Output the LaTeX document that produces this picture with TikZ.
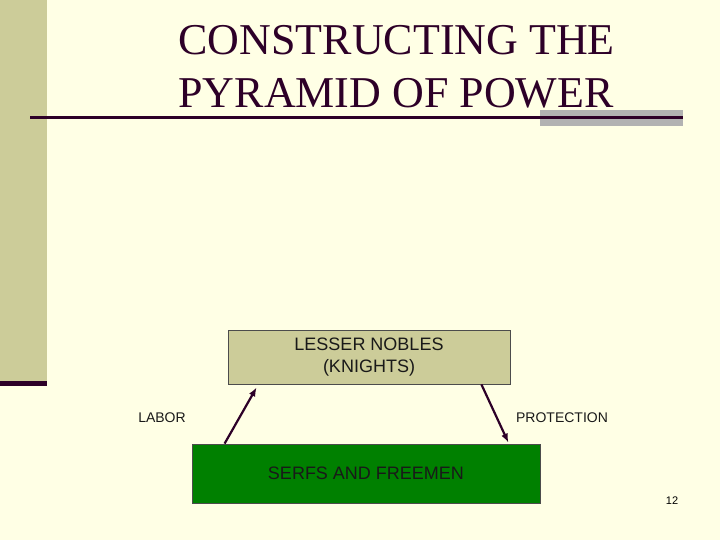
\documentclass[tikz,border=0pt]{standalone}
\usepackage{fontspec}
\setmainfont{Liberation Serif}
\newfontfamily\boxfont{Liberation Sans}
\definecolor{slideBg}{RGB}{255,255,229}
\definecolor{slideTan}{RGB}{204,204,153}
\definecolor{slideDark}{RGB}{45,0,40}
\definecolor{slideGray}{RGB}{178,178,178}
\definecolor{slideGreen}{RGB}{0,128,0}
\usetikzlibrary{arrows.meta,positioning,calc}

\begin{document}
\begin{tikzpicture}[x=1pt,y=-1pt,
    tier/.style={draw=black!70, line width=0.8pt, minimum height=54pt, align=center,
      font=\boxfont\fontsize{18}{22}\selectfont, text=black!90},
    duty/.style={font=\boxfont\fontsize{14}{16}\selectfont, text=black!90},
    flow/.style={-{Latex[length=9pt,width=7pt]}, line width=2.2pt, slideDark}]
    \useasboundingbox (0,0) rectangle (720,540);
    \fill[slideBg] (0,0) rectangle (720,540);

    % Side bar
    \fill[slideTan] (0,0) rectangle (47,382);
    \fill[slideDark] (0,381) rectangle (47,386);

    % The title
    \fill[slideGray] (540,110) rectangle (683,126);
    \draw[slideDark, line width=3pt] (30,117.5) -- (683,117.5);
    \node[anchor=west, slideDark, font=\fontsize{44}{53}\selectfont, align=left] (title) at (175,67)
      {CONSTRUCTING THE\\PYRAMID OF POWER};

    % The two tiers
    \node[tier, fill=slideTan, minimum width=282pt] (nobles) at (369,357) {LESSER NOBLES\\(KNIGHTS)};
    \node[tier, fill=slideGreen, minimum width=348pt, minimum height=59pt] (serfs) at (366,473.5) {SERFS AND FREEMEN};

    % What flows between them
    \draw[flow] ($(serfs.north west)+(33,0)$) -- ($(nobles.south west)+(29,3)$);
    \draw[flow] ($(nobles.south east)+(-29,0)$) -- ($(serfs.north east)+(-32,-1)$);
    \node[duty] (labor) at (162,418) {LABOR};
    \node[duty] (protection) at (562,418) {PROTECTION};

    \node[font=\boxfont\fontsize{11}{12}\selectfont] (page) at (672,501) {12};
  \end{tikzpicture}
\end{document}
